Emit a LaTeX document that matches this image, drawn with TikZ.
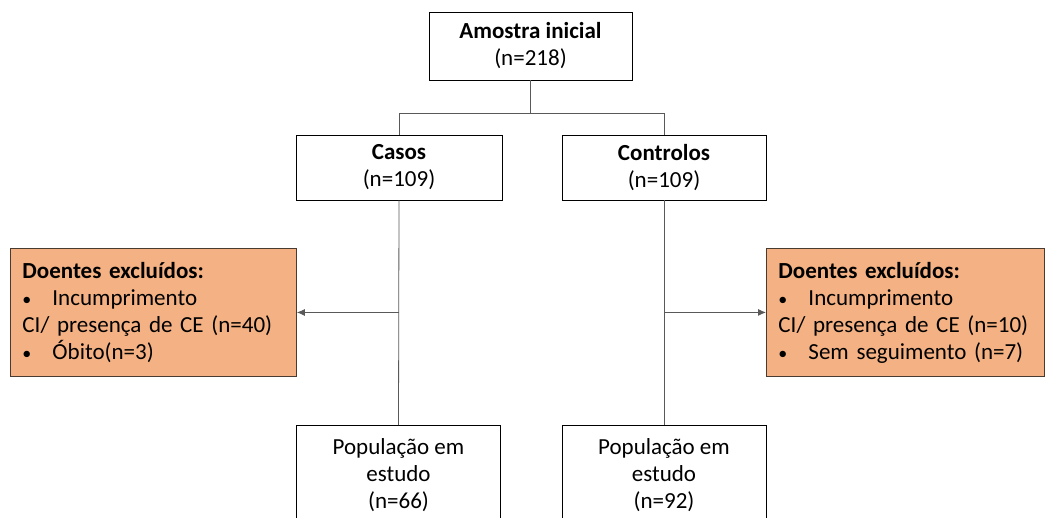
\documentclass[tikz,border=0pt]{standalone}
\usepackage{fontspec}
\setmainfont{Carlito}
\usetikzlibrary{arrows.meta}
\definecolor{exfill}{HTML}{F4B183}
\definecolor{exdraw}{HTML}{4A3B30}
\definecolor{conn}{HTML}{595959}
\tikzset{
  every node/.style={font=\fontsize{23}{27}\selectfont},
  box/.style={draw=black, line width=0.8pt, fill=white, align=center, inner sep=0pt},
  exbox/.style={draw=exdraw, line width=0.9pt, fill=exfill, align=left, inner xsep=12pt, inner ysep=0pt, anchor=north west},
  conline/.style={draw=conn, line width=0.8pt},
  arr/.style={conline, -{Latex[length=8pt,width=7pt]}}
}
\newcommand{\bul}{\makebox[30pt][l]{\fontsize{18}{27}\selectfont•}}
\newcommand{\popbox}[1]{\parbox[c][110pt][t]{200pt}{\centering\vspace*{13pt}População em\\estudo\\#1}}
\begin{document}
\begin{tikzpicture}[x=1pt,y=-1pt]
\useasboundingbox (0,0) rectangle (1046,518);
\clip (0,0) rectangle (1046,518);
\node[box, minimum width=203pt, minimum height=68pt] (top) at (530.5,46) {\textbf{Amostra inicial}\\(n=218)};
\node[box, minimum width=206pt, minimum height=65pt] (casos) at (399,167.5) {\textbf{Casos}\\(n=109)};
\node[box, minimum width=204pt, minimum height=65pt] (ctrl) at (664,167.5) {\textbf{Controlos}\\(n=109)};
\node[exbox, minimum width=286pt, minimum height=128pt, text width=262pt] (exL) at (10,248) {\textbf{Doentes excluídos:}\\\bul Incumprimento\\CI/ presença de CE (n=40)\\\bul Óbito(n=3)};
\node[exbox, minimum width=278pt, minimum height=128pt, text width=254pt] (exR) at (766,248) {\textbf{Doentes excluídos:}\\\bul Incumprimento\\CI/ presença de CE (n=10)\\\bul Sem seguimento (n=7)};
\node[box, minimum width=204pt, anchor=north] (popL) at (398.5,425) {\popbox{(n=66)}};
\node[box, minimum width=204pt, anchor=north] (popR) at (664,425) {\popbox{(n=92)}};
\coordinate (hmid) at (530.5,113);
\draw[conline] (top.south) -- (hmid);
\draw[conline] (casos.north) -- (casos.north |- hmid) -- (ctrl.north |- hmid) -- (ctrl.north);
\draw[conline] (casos.south) -- (popL.north);
\draw[conline] (ctrl.south) -- (popR.north);
\coordinate (aL) at (casos.south |- exL.east);
\coordinate (aR) at (ctrl.south |- exR.west);
\draw[arr] (aL) -- (exL.east);
\draw[arr] (aR) -- (exR.west);
\end{tikzpicture}
\end{document}
